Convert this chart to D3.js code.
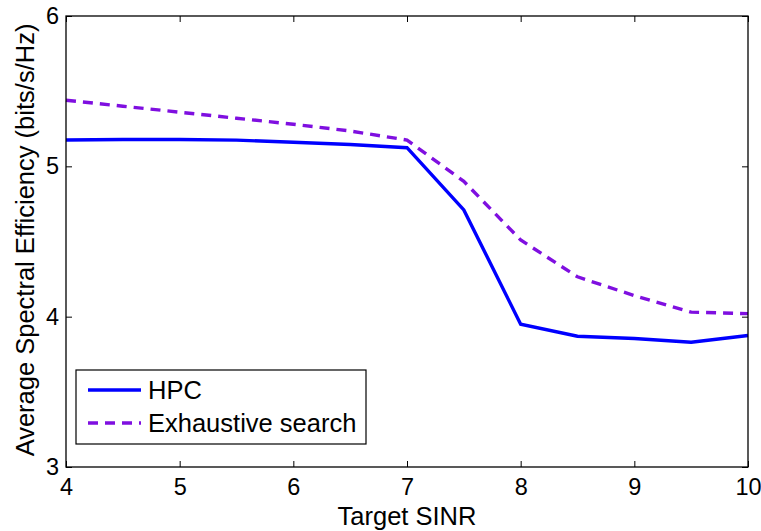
<!DOCTYPE html>
<html><head><meta charset="utf-8">
<script src="https://cdn.jsdelivr.net/npm/d3@7"></script>
<style>body{margin:0;background:#fff}svg{display:block;font-family:"Liberation Sans",Arial,sans-serif}</style>
</head><body><svg id="c" width="761" height="531"></svg>
<script>
const sinr = [4, 4.5, 5, 5.5, 6, 6.5, 7, 7.5, 8, 8.5, 9, 9.5, 10];
const hpc = [5.175, 5.178, 5.178, 5.174, 5.16, 5.145, 5.124, 4.71, 3.95, 3.87, 3.855, 3.83, 3.875];
const exhaustive = [5.44, 5.40, 5.36, 5.32, 5.28, 5.235, 5.175, 4.90, 4.51, 4.265, 4.14, 4.03, 4.02];
const xTicks = [4, 5, 6, 7, 8, 9, 10];
const yTicks = [3, 4, 5, 6];
const seriesNames = ["HPC", "Exhaustive search"];

const FS = 25.5, TFS = 23.5;
const svg = d3.select("#c");
const L = 66, R = 748, T = 16, B = 467;
const x = d3.scaleLinear().domain([4, 10]).range([L, R]);
const y = d3.scaleLinear().domain([3, 6]).range([B, T]);

const line = d3.line().x((d, i) => x(sinr[i])).y(d => y(d));
svg.append("path").attr("d", line(hpc)).attr("fill", "none").attr("stroke", "#0000ff").attr("stroke-width", 3.4);
svg.append("path").attr("d", line(exhaustive)).attr("fill", "none").attr("stroke", "#7f0fe0").attr("stroke-width", 3.4).attr("stroke-dasharray", "10,7");

// box
svg.append("rect").attr("x", L).attr("y", T).attr("width", R - L).attr("height", B - T).attr("fill", "none").attr("stroke", "#000").attr("stroke-width", 1.3);

const tl = 6;
const gx = svg.append("g").attr("transform", `translate(0,${B})`).call(d3.axisBottom(x).tickValues(xTicks).tickSizeInner(-tl).tickSizeOuter(0).tickPadding(11).tickFormat(d3.format("d")));
const gxt = svg.append("g").attr("transform", `translate(0,${T})`).call(d3.axisTop(x).tickValues(xTicks).tickSizeInner(-tl).tickSizeOuter(0).tickFormat(""));
const gy = svg.append("g").attr("transform", `translate(${L},0)`).call(d3.axisLeft(y).tickValues(yTicks).tickSizeInner(-tl).tickSizeOuter(0).tickPadding(7).tickFormat(d3.format("d")));
const gyr = svg.append("g").attr("transform", `translate(${R},0)`).call(d3.axisRight(y).tickValues(yTicks).tickSizeInner(-tl).tickSizeOuter(0).tickFormat(""));
[gx, gxt, gy, gyr].forEach(g => { g.select(".domain").remove(); g.selectAll("line").attr("stroke", "#000"); g.selectAll("text").attr("font-size", TFS).attr("fill", "#000").attr("font-family", "Liberation Sans, Arial, sans-serif"); });
gx.selectAll("text").attr("dy", "0.71em");

svg.append("text").attr("x", (L + R) / 2).attr("y", 525).attr("text-anchor", "middle").attr("font-size", FS).text("Target SINR");
svg.append("text").attr("transform", `translate(34,240) rotate(-90)`).attr("text-anchor", "middle").attr("font-size", FS).text("Average Spectral Efficiency (bits/s/Hz)");

// legend
const lg = svg.append("g");
lg.append("rect").attr("x", 76).attr("y", 370).attr("width", 290).attr("height", 74).attr("fill", "#fff").attr("stroke", "#000").attr("stroke-width", 1.2);
const ly = [390, 423];
const styles = [{c: "#0000ff", d: null}, {c: "#7f0fe0", d: "10,7"}];
seriesNames.forEach((n, i) => {
  lg.append("line").attr("x1", 88).attr("x2", 141).attr("y1", ly[i]).attr("y2", ly[i]).attr("stroke", styles[i].c).attr("stroke-width", 3.4).attr("stroke-dasharray", styles[i].d);
  lg.append("text").attr("x", 148).attr("y", ly[i]).attr("dy", "0.36em").attr("font-size", FS).text(n);
});
</script></body></html>
